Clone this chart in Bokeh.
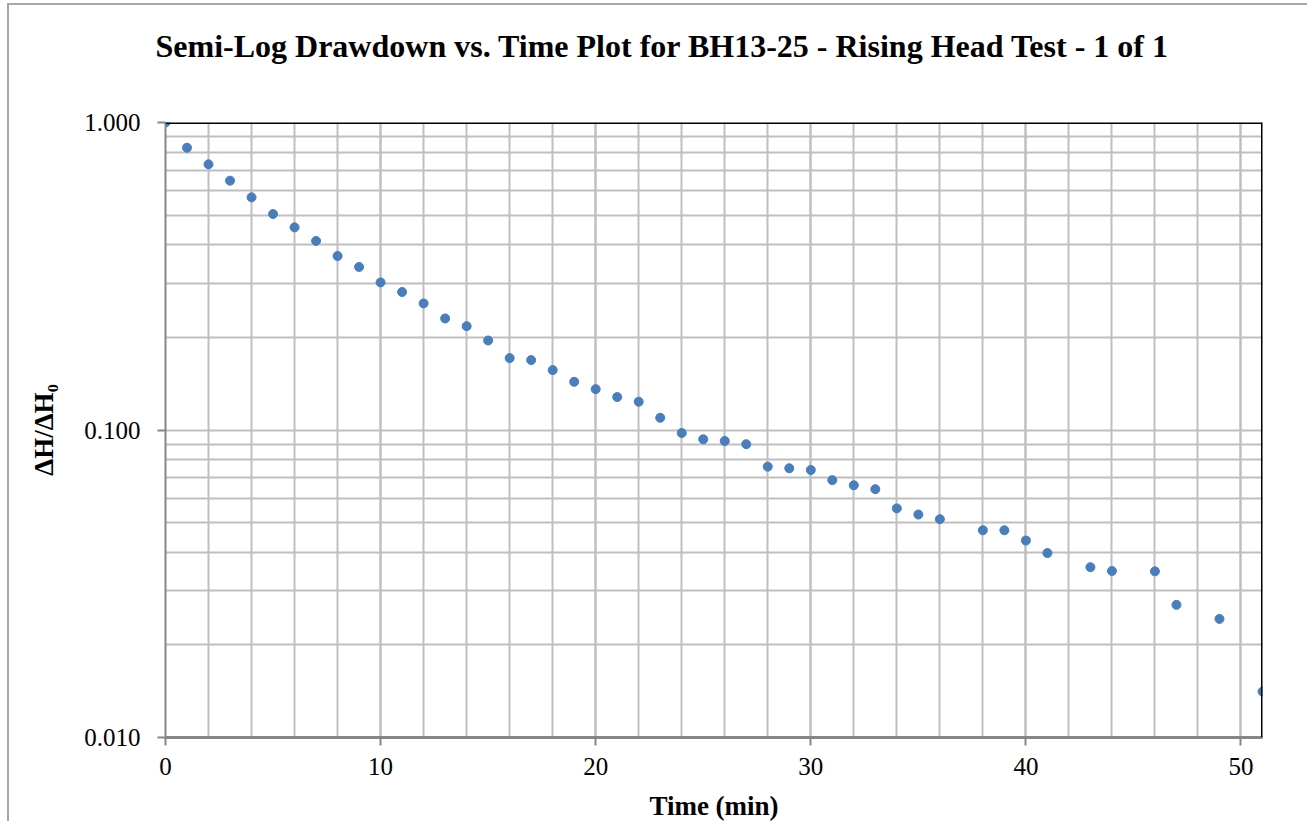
from bokeh.plotting import figure
from bokeh.models import Range1d, SingleIntervalTicker, FixedTicker, PrintfTickFormatter, Span, Title
from bokeh.embed import file_html
from bokeh.resources import INLINE

# ---- data ----
time_min = [0, 1, 2, 3, 4, 5, 6, 7, 8, 9, 10, 11, 12, 13, 14, 15, 16, 17, 18, 19,
            20, 21, 22, 23, 24, 25, 26, 27, 28, 29, 30, 31, 32, 33, 34, 35, 36,
            38, 39, 40, 41, 43, 44, 46, 47, 49, 51]
dh_ratio = [1.000, 0.828, 0.731, 0.647, 0.571, 0.504, 0.456, 0.412, 0.368, 0.339,
            0.302, 0.281, 0.258, 0.2305, 0.2176, 0.1955, 0.1713, 0.1688, 0.1566, 0.1435,
            0.1358, 0.128, 0.1236, 0.1096, 0.0978, 0.0933, 0.0921, 0.0899, 0.0760, 0.0751,
            0.0741, 0.0687, 0.0661, 0.0642, 0.0556, 0.0531, 0.0513,
            0.0472, 0.0472, 0.0437, 0.0398, 0.0358, 0.0348, 0.0347, 0.0270, 0.0243, 0.0141]
x_limits = (0, 51)
y_limits = (0.01, 1.0)
y_major_ticks = [0.01, 0.1, 1.0]
y_minor_mults = [2, 3, 4, 5, 6, 7, 8, 9]
title_text = "Semi-Log Drawdown vs. Time Plot for BH13-25 - Rising Head Test - 1 of 1"
x_label = "Time (min)"
y_label = "ΔH/ΔH₀"

SERIF = "Liberation Serif"
GRID = "#bfbfbf"
AXIS = "#868686"

W, H = 1300, 818
FL, FR, FT, FB = 156, 47, 117, 81

p = figure(width=W, height=H, output_backend="svg", toolbar_location=None,
           x_range=Range1d(*x_limits), y_range=Range1d(*y_limits), y_axis_type="log",
           min_border_left=FL, min_border_right=FR, min_border_top=FT, min_border_bottom=FB)
p.margin = (3, 0, 0, 7)
p.outline_line_color = None
p.background_fill_color = "white"
p.border_fill_color = "white"
p.styles = {"border-left": "2px solid #a6a6a6", "border-top": "2px solid #a6a6a6"}

# title: a blank spacer next to the frame, then the real title above it
p.add_layout(Title(text=" ", text_font_size="10px", standoff=46), "above")
p.add_layout(Title(text=title_text, text_font=SERIF, text_font_size="32px",
                   text_font_style="bold", text_color="black", align="left",
                   offset=-10, standoff=0), "above")

# x axis
p.xaxis.ticker = SingleIntervalTicker(interval=10, num_minor_ticks=5)
p.xaxis.axis_line_color = AXIS
p.xaxis.axis_line_width = 3
p.xaxis.major_tick_line_color = AXIS
p.xaxis.major_tick_line_width = 2
p.xaxis.major_tick_out = 8
p.xaxis.major_tick_in = 0
p.xaxis.minor_tick_line_color = None
p.xaxis.major_label_text_font = SERIF
p.xaxis.major_label_text_font_size = "25px"
p.xaxis.major_label_text_color = "black"
p.xaxis.major_label_standoff = 12
p.xaxis.axis_label = x_label
p.xaxis.axis_label_text_font = SERIF
p.xaxis.axis_label_text_font_size = "27px"
p.xaxis.axis_label_text_font_style = "bold"
p.xaxis.axis_label_text_color = "black"
p.xaxis.axis_label_standoff = 13

# y axis
y_minor = [m * 10 ** e for e in (-2, -1) for m in y_minor_mults]
p.yaxis.ticker = FixedTicker(ticks=y_major_ticks, minor_ticks=y_minor)
p.yaxis.formatter = PrintfTickFormatter(format="%.3f")
p.yaxis.axis_line_color = AXIS
p.yaxis.axis_line_width = 2
p.yaxis.major_tick_line_color = AXIS
p.yaxis.major_tick_line_width = 2
p.yaxis.major_tick_out = 8
p.yaxis.major_tick_in = 0
p.yaxis.minor_tick_line_color = None
p.yaxis.major_label_text_font = SERIF
p.yaxis.major_label_text_font_size = "25px"
p.yaxis.major_label_text_color = "black"
p.yaxis.major_label_standoff = 17
p.yaxis.axis_label = y_label
p.yaxis.axis_label_text_font = SERIF
p.yaxis.axis_label_text_font_size = "27px"
p.yaxis.axis_label_text_font_style = "bold"
p.yaxis.axis_label_text_color = "black"
p.yaxis.axis_label_standoff = 22

# grids
for g in (p.xgrid, p.ygrid):
    g.grid_line_color = GRID
    g.grid_line_width = 2
    g.minor_grid_line_color = GRID
    g.minor_grid_line_width = 2
p.ygrid.ticker = p.yaxis.ticker

# top / right border of plot area
p.add_layout(Span(location=y_limits[1], dimension="width", line_color="black", line_width=3))
p.add_layout(Span(location=x_limits[1], dimension="height", line_color="black", line_width=3))

p.scatter(time_min, dh_ratio, size=9, marker="circle", fill_color="#4a7ebb", line_color="#4a7ebb")

open("out.html", "w").write(file_html(p, INLINE))
